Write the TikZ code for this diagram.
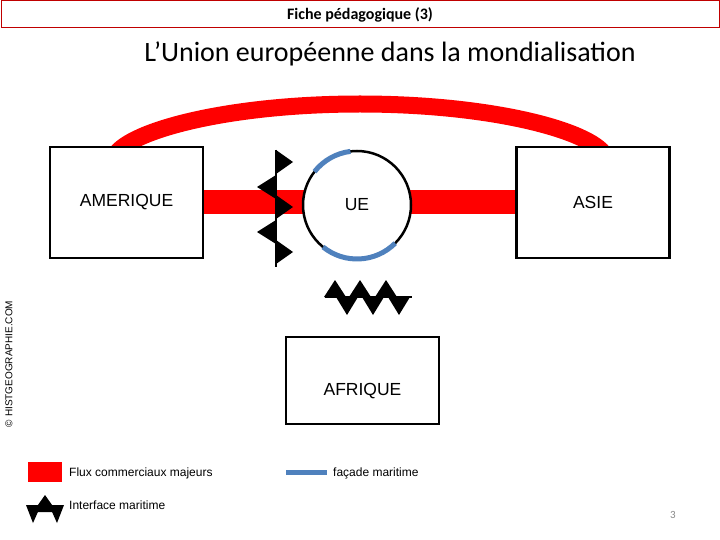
\documentclass[tikz,border=0pt]{standalone}
\usepackage{fontspec}
\setmainfont{Liberation Sans}
\newfontfamily\calibri{Carlito}
\usetikzlibrary{backgrounds}
\definecolor{hdrred}{RGB}{192,0,0}
\definecolor{facade}{RGB}{79,129,189}
\definecolor{pagegray}{RGB}{137,137,137}
\begin{document}
\begin{tikzpicture}[x=1pt,y=-1pt,
  box/.style={draw=black,line width=2.5pt,fill=white,inner sep=0pt,
    minimum width=153pt,font=\fontsize{17.5}{20}\selectfont},
  flux/.style={draw=red,line width=24pt},
  fluxarc/.style={draw=red,line width=17pt},
  facadeline/.style={draw=facade,line width=5pt},
  iface/.style={fill=black,draw=none},
  ifaceline/.style={draw=black,line width=2pt},
  legtext/.style={anchor=west,inner sep=0pt,font=\fontsize{12}{14}\selectfont}]
\useasboundingbox (0,0) rectangle (720,540);

% header
\node[draw=hdrred,line width=1pt,minimum width=718pt,minimum height=27pt,inner sep=0pt]
  (hdr) at (360,14.5) {\calibri\bfseries\fontsize{16}{18}\selectfont Fiche pédagogique (3)};
\node (title) at (390,54) {\calibri\fontsize{28}{32}\selectfont L’Union européenne dans la mondialisation};

% copyright
\node[rotate=90,inner sep=0pt,font=\fontsize{10}{12}\selectfont] (copy) at (9,364) {© HISTGEOGRAPHIE.COM};

% boxes
\node[box,minimum height=111pt] (amerique) at (126.5,202.5) {AMERIQUE};
\node[box,minimum height=111pt] (asie) at (593,202.5) {ASIE};
\node[box,minimum height=87pt] (afrique) at (362.5,380.5) {};
\node[inner sep=0pt,font=\fontsize{17.5}{20}\selectfont] (afriquelbl) at ([yshift=-10.5pt]afrique.center) {AFRIQUE};

% UE circle
\node[circle,draw=black,line width=2.5pt,fill=white,minimum size=108pt,inner sep=0pt,
  font=\fontsize{17.5}{20}\selectfont] (ue) at (357,205) {UE};

% flows (background)
\coordinate (arcL) at (115,155);
\coordinate (arcM) at (360,104);
\coordinate (arcR) at (605,155);
\begin{pgfonlayer}{background}
  \fill[white] (0,0) rectangle (720,540);
  \draw[fluxarc] (arcL) .. controls (131,130) and (230,104) .. (arcM)
                        .. controls (490,104) and (589,130) .. (arcR);
  \draw[flux] (amerique) -- (asie);
\end{pgfonlayer}

% facades maritimes
\draw[facadeline] (ue.center) ++(97:54pt) arc[start angle=97,end angle=142,radius=54pt];
\draw[facadeline] (ue.center) ++(231:54pt) arc[start angle=231,end angle=315,radius=54pt];

% interface maritime (vertical)
\coordinate (ivTop) at (276,150);
\coordinate (ivBot) at (276,267);
\draw[ifaceline] (ivTop) -- (ivBot);
\fill[iface] (276,150) -- (293,162) -- (276,174) -- cycle;
\fill[iface] (276,175) -- (257,187) -- (276,199) -- cycle;
\fill[iface] (276,195) -- (293,207) -- (276,219) -- cycle;
\fill[iface] (276,220) -- (257,232) -- (276,244) -- cycle;
\fill[iface] (276,240) -- (293,252) -- (276,264) -- cycle;

% interface maritime (horizontal)
\coordinate (ihL) at (325,297);
\coordinate (ihR) at (412,297);
\draw[ifaceline] (ihL) -- (ihR);
\fill[iface] (324,297) -- (335,280) -- (346,297) -- cycle;
\fill[iface] (349,297) -- (360,280) -- (371,297) -- cycle;
\fill[iface] (375,297) -- (386,280) -- (397,297) -- cycle;
\fill[iface] (336,297) -- (347,315) -- (358,297) -- cycle;
\fill[iface] (362,297) -- (373,315) -- (384,297) -- cycle;
\fill[iface] (388,297) -- (399,315) -- (410,297) -- cycle;

% legend
\fill[red] (28,462) rectangle (62,482);
\node[legtext] (lflux) at (69,473) {Flux commerciaux majeurs};
\coordinate (lfacL) at (286,472);
\coordinate (lfacR) at (327,472);
\draw[facadeline] (lfacL) -- (lfacR);
\node[legtext] (lfacade) at (333,473) {façade maritime};
\fill[iface] (33,512) -- (45,495) -- (57,512) -- cycle;
\fill[iface] (26,505) -- (41,505) -- (33,523) -- cycle;
\fill[iface] (49,505) -- (64,505) -- (57,523) -- cycle;
\node[legtext] (liface) at (69,505) {Interface maritime};

% page number
\node[text=pagegray,font=\calibri\fontsize{11}{13}\selectfont] (page) at (673,515) {3};
\end{tikzpicture}
\end{document}
